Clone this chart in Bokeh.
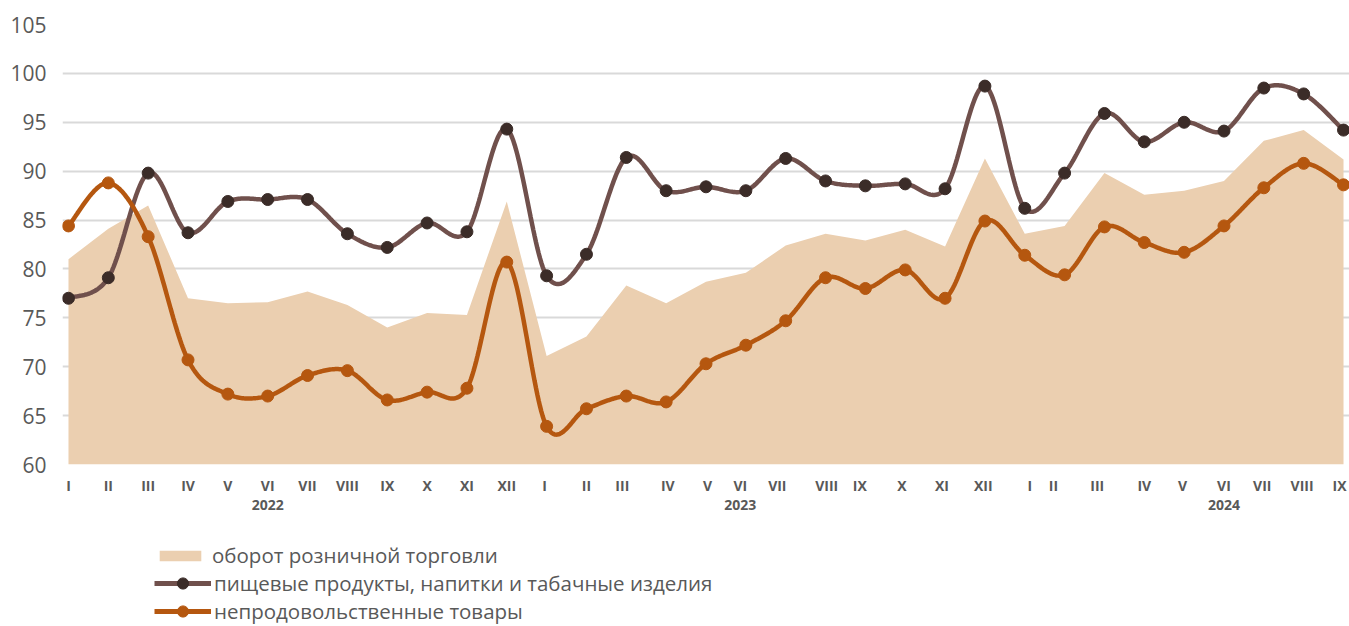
import numpy as np
from bokeh.plotting import figure
from bokeh.layouts import column
from bokeh.models import (FixedTicker, LinearAxis, Legend, LegendItem, Range1d)
from bokeh.embed import file_html
from bokeh.resources import INLINE

# ---------------- data ----------------
months = ["I", "II", "III", "IV", "V", "VI", "VII", "VIII", "IX", "X", "XI", "XII",
          "I", "II", "III", "IV", "V", "VI", "VII", "VIII", "IX", "X", "XI", "XII",
          "I", "II", "III", "IV", "V", "VI", "VII", "VIII", "IX"]
years = ["2022", "2023", "2024"]
retail = [81.0, 84.1, 86.5, 77.0, 76.5, 76.6, 77.7, 76.3, 74.0, 75.5, 75.3, 86.9,
          71.1, 73.1, 78.3, 76.5, 78.7, 79.6, 82.4, 83.6, 82.9, 84.0, 82.3, 91.3,
          83.6, 84.4, 89.8, 87.6, 88.0, 89.0, 93.1, 94.2, 91.2]
food = [77.0, 79.1, 89.8, 83.7, 86.9, 87.1, 87.1, 83.6, 82.2, 84.7, 83.8, 94.3,
        79.3, 81.5, 91.4, 88.0, 88.4, 88.0, 91.3, 89.0, 88.5, 88.7, 88.2, 98.7,
        86.2, 89.8, 95.9, 93.0, 95.0, 94.1, 98.5, 97.9, 94.2]
nonfood = [84.4, 88.8, 83.3, 70.7, 67.2, 67.0, 69.1, 69.6, 66.6, 67.4, 67.8, 80.7,
           63.9, 65.7, 67.0, 66.4, 70.3, 72.2, 74.7, 79.1, 78.0, 79.9, 77.0, 84.9,
           81.4, 79.4, 84.3, 82.7, 81.7, 84.4, 88.3, 90.8, 88.6]
names = ["оборот розничной торговли",
         "пищевые продукты, напитки и табачные изделия",
         "непродовольственные товары"]
y_ticks = [60, 65, 70, 75, 80, 85, 90, 95, 100, 105]

# label placement nudges (layout only, in month units)
label_nudge = [0] * 12 + [-0.05, 0, -0.1, 0.04, 0.04, -0.14, -0.21, 0.03, -0.14, -0.08, -0.08, -0.04] \
    + [0.13, -0.28, -0.18, 0, -0.04, 0, -0.04, -0.04, -0.1]

FONT = "Open Sans"
GREY = "#595959"
C_AREA = "#EBCFB0"
C_FOOD = "#70504C"
C_FOOD_M = "#3B2C28"
C_NF = "#B5570F"

x = np.arange(len(months), dtype=float)


def smooth(xs, ys, n=30):
    xs = np.asarray(xs, float)
    ys = np.asarray(ys, float)
    px = np.concatenate([[xs[0]], xs, [xs[-1]]])
    py = np.concatenate([[ys[0]], ys, [ys[-1]]])
    t = np.linspace(0, 1, n, endpoint=False)
    b0 = (1 - t) ** 3
    b1 = 3 * (1 - t) ** 2 * t
    b2 = 3 * (1 - t) * t ** 2
    b3 = t ** 3
    ox, oy = [], []
    for i in range(len(xs) - 1):
        p0x, p0y = px[i + 1], py[i + 1]
        p3x, p3y = px[i + 2], py[i + 2]
        c1x = p0x + (px[i + 2] - px[i]) / 6
        c1y = p0y + (py[i + 2] - py[i]) / 6
        c2x = p3x - (px[i + 3] - px[i + 1]) / 6
        c2y = p3y - (py[i + 3] - py[i + 1]) / 6
        ox.extend(b0 * p0x + b1 * c1x + b2 * c2x + b3 * p3x)
        oy.extend(b0 * p0y + b1 * c1y + b2 * c2y + b3 * p3y)
    ox.append(xs[-1])
    oy.append(ys[-1])
    return ox, oy


p = figure(width=1349, height=526, x_range=Range1d(-0.15, 32.15), y_range=Range1d(60, 105),
           output_backend="svg", toolbar_location=None, x_axis_type=None,
           min_border_left=62, min_border_right=0, min_border_top=24, min_border_bottom=62)
p.outline_line_color = None
p.background_fill_color = "white"

# y axis
yax = p.yaxis[0]
yax.ticker = FixedTicker(ticks=y_ticks)
yax.axis_line_color = None
yax.major_tick_line_color = None
yax.major_tick_out = 0
yax.major_tick_in = 0
yax.minor_tick_line_color = None
yax.major_label_standoff = 16
yax.major_label_text_font = FONT
yax.major_label_text_font_size = "21px"
yax.major_label_text_color = GREY
p.ygrid.ticker = FixedTicker(ticks=y_ticks)
p.ygrid.grid_line_color = "#D9D9D9"
p.ygrid.grid_line_width = 1.8


def style_axis(ax, standoff):
    ax.axis_line_color = None
    ax.major_tick_line_color = None
    ax.major_tick_out = 0
    ax.major_tick_in = 0
    ax.minor_tick_line_color = None
    ax.major_label_standoff = standoff
    ax.major_label_text_font = FONT
    ax.major_label_text_font_size = "14px"
    ax.major_label_text_font_style = "bold"
    ax.major_label_text_color = GREY


# x axis months
tick_pos = [round(i + o, 3) for i, o in enumerate(label_nudge)]
xax = LinearAxis(ticker=FixedTicker(ticks=tick_pos),
                 major_label_overrides={tp: m for tp, m in zip(tick_pos, months)})
style_axis(xax, 11)
p.add_layout(xax, "below")

# x axis years (centred under VI of each year)
yr_pos = [tick_pos[5], tick_pos[17], tick_pos[29]]
yrax = LinearAxis(ticker=FixedTicker(ticks=yr_pos),
                  major_label_overrides={tp: y for tp, y in zip(yr_pos, years)})
style_axis(yrax, 2)
p.add_layout(yrax, "below")

# series
p.varea(x=x, y1=60, y2=retail, fill_color=C_AREA)

fx, fy = smooth(x, food)
p.line(fx, fy, line_color=C_FOOD, line_width=4.5)
p.scatter(x, food, size=12, marker="circle", fill_color=C_FOOD_M, line_color=C_FOOD_M)

nx, ny = smooth(x, nonfood)
p.line(nx, ny, line_color=C_NF, line_width=4.5)
p.scatter(x, nonfood, size=12, marker="circle", fill_color=C_NF, line_color=C_NF)

# ---------------- legend strip ----------------
# same series drawn in a strip whose y window (0..1) lies below all values,
# so only the legend glyphs are seen
lg = figure(width=1349, height=100, x_range=Range1d(-0.15, 32.15), y_range=Range1d(0, 1),
            output_backend="svg", toolbar_location=None, x_axis_type=None, y_axis_type=None,
            min_border_left=0, min_border_right=0, min_border_top=0, min_border_bottom=0)
lg.outline_line_color = None
lg.xgrid.visible = False
lg.ygrid.visible = False

l_area = lg.varea(x=x, y1=60, y2=retail, fill_color=C_AREA)
l_fl = lg.line(fx, fy, line_color=C_FOOD, line_width=5)
l_fm = lg.scatter(x, food, marker="circle", fill_color=C_FOOD_M, line_color=C_FOOD_M)
l_nl = lg.line(nx, ny, line_color=C_NF, line_width=5)
l_nm = lg.scatter(x, nonfood, marker="circle", fill_color=C_NF, line_color=C_NF)


def style_legend(leg):
    leg.label_text_font = FONT
    leg.label_text_font_size = "20.5px"
    leg.label_text_color = GREY
    leg.padding = 0
    leg.margin = 0
    leg.spacing = 0
    leg.border_line_color = None
    leg.background_fill_alpha = 0


leg_a = Legend(items=[LegendItem(label=names[0], renderers=[l_area])],
               location=(92, 57), orientation="vertical")
style_legend(leg_a)
leg_a.glyph_width = 52
leg_a.glyph_height = 13
leg_a.label_standoff = 6
lg.add_layout(leg_a, "center")

leg_b = Legend(items=[LegendItem(label=names[1], renderers=[l_fl, l_fm]),
                      LegendItem(label=names[2], renderers=[l_nl, l_nm])],
               location=(92, 1), orientation="vertical")
style_legend(leg_b)
leg_b.glyph_width = 57
leg_b.glyph_height = 28
leg_b.label_height = 28
leg_b.label_standoff = 3
lg.add_layout(leg_b, "center")

layout = column(p, lg, spacing=0)
open("out.html", "w").write(file_html(layout, INLINE))
